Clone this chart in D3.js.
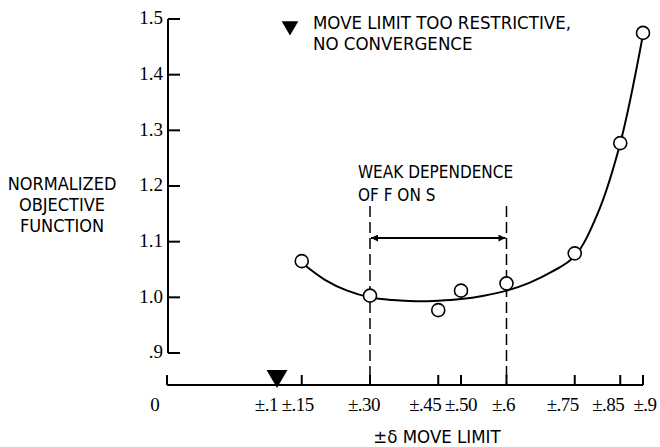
<!DOCTYPE html>
<html>
<head>
<meta charset="utf-8">
<script src="https://cdn.jsdelivr.net/npm/d3@7"></script>
<style>
	body { margin: 0; background: #fff; }
	.cond { font-family: "DejaVu Sans Condensed", "DejaVu Sans", sans-serif; font-stretch: condensed; }
	.num { font-family: "Liberation Serif", serif; }
</style>
</head>
<body>
<div id="chart"></div>
<script>
// measured points
var moveLimits = [0.15, 0.30, 0.45, 0.50, 0.60, 0.75, 0.85, 0.90];
var objValues  = [1.065, 1.003, 0.977, 1.012, 1.025, 1.079, 1.277, 1.475];

// faired curve through the points
var curveX = [0.15, 0.20, 0.25, 0.30, 0.35, 0.40, 0.45, 0.50, 0.55, 0.60, 0.65, 0.70, 0.75, 0.80, 0.85, 0.90];
var curveY = [1.062, 1.032, 1.012, 1.000, 0.995, 0.993, 0.994, 0.997, 1.003, 1.012, 1.026, 1.046, 1.074, 1.150, 1.277, 1.472];

var xTicks = [0.15, 0.30, 0.45, 0.50, 0.60, 0.75, 0.85, 0.90];
var xTickLabels = ["\u00b1.15", "\u00b1.30", "\u00b1.45", "\u00b1.50", "\u00b1.6", "\u00b1.75", "\u00b1.85", "\u00b1.9"];
var yTicks = [0.9, 1.0, 1.1, 1.2, 1.3, 1.4, 1.5];
var yTickLabels = [".9", "1.0", "1.1", "1.2", "1.3", "1.4", "1.5"];
var noConvergence = [0.1];
var weakRange = [0.30, 0.60];

// label nudges, px, so crowded tick labels sit as in the original
var xLabelShift = [-4, -6, -13, 0, -3, -12, -12, 2];

var W = 660, H = 447;

var svg = d3.select("#chart").append("svg")
	.attr("width", W)
	.attr("height", H);

// x axis is broken: 0 at origin, linear from .1 on
var x = d3.scaleLinear().domain([0, 0.1, 0.9]).range([167, 279, 643]);
var y = d3.scaleLinear().domain([0.9, 1.5]).range([353, 19]);
var xAxisY = 385;

// y axis
svg.append("line")
	.attr("x1", 168).attr("x2", 168)
	.attr("y1", y(1.5)).attr("y2", y(0.9))
	.attr("stroke", "#000").attr("stroke-width", 2);

svg.selectAll(".ytick").data(yTicks).enter().append("line")
	.attr("x1", 168).attr("x2", 180)
	.attr("y1", function(d){ return y(d); })
	.attr("y2", function(d){ return y(d); })
	.attr("stroke", "#000").attr("stroke-width", 2);

svg.selectAll(".ylab").data(yTicks).enter().append("text")
	.attr("class", "num")
	.attr("x", 163)
	.attr("y", function(d){ return y(d) + 1; })
	.attr("text-anchor", "end")
	.attr("dominant-baseline", "middle")
	.attr("font-size", 19)
	.text(function(d, i){ return yTickLabels[i]; });

// x axis
svg.append("line")
	.attr("x1", x(0)).attr("x2", x(0.9))
	.attr("y1", xAxisY).attr("y2", xAxisY)
	.attr("stroke", "#000").attr("stroke-width", 2);

svg.selectAll(".xtick").data([0].concat(xTicks)).enter().append("line")
	.attr("x1", function(d){ return x(d); })
	.attr("x2", function(d){ return x(d); })
	.attr("y1", xAxisY).attr("y2", xAxisY - 10)
	.attr("stroke", "#000").attr("stroke-width", 2);

svg.selectAll(".xlab").data(xTicks).enter().append("text")
	.attr("class", "num")
	.attr("x", function(d, i){ return x(d) + xLabelShift[i]; })
	.attr("y", 411)
	.attr("text-anchor", "middle")
	.attr("font-size", 19)
	.attr("letter-spacing", -0.5)
	.text(function(d, i){ return xTickLabels[i]; });

svg.append("text")
	.attr("class", "num")
	.attr("x", x(0) - 12).attr("y", 411)
	.attr("text-anchor", "middle")
	.attr("font-size", 19)
	.text("0");

svg.selectAll(".xlab1").data(noConvergence).enter().append("text")
	.attr("class", "num")
	.attr("x", function(d){ return x(d) - 1; })
	.attr("y", 411)
	.attr("text-anchor", "end")
	.attr("font-size", 19)
	.attr("letter-spacing", -0.5)
	.text("\u00b1.1");

// no convergence marker
var tri = d3.symbol().type(d3.symbolTriangle);
svg.selectAll(".nc").data(noConvergence).enter().append("path")
	.attr("d", tri.size(190)())
	.attr("transform", function(d){ return "translate(" + (x(d) - 2) + "," + (xAxisY - 9) + ") rotate(180)"; })
	.attr("fill", "#000");

// weak dependence region
svg.selectAll(".dash").data(weakRange).enter().append("line")
	.attr("x1", function(d){ return x(d); })
	.attr("x2", function(d){ return x(d); })
	.attr("y1", 206).attr("y2", xAxisY)
	.attr("stroke", "#000").attr("stroke-width", 1.5)
	.attr("stroke-dasharray", "11,5");

var defs = svg.append("defs");
defs.append("marker")
	.attr("id", "ah")
	.attr("viewBox", "0 0 10 10")
	.attr("refX", 10).attr("refY", 5)
	.attr("markerWidth", 14).attr("markerHeight", 7)
	.attr("markerUnits", "userSpaceOnUse")
	.attr("orient", "auto-start-reverse")
	.append("path").attr("d", "M0,0 L10,5 L0,10 Z").attr("fill", "#000");

svg.append("line")
	.attr("x1", x(weakRange[0]) + 1).attr("x2", x(weakRange[1]) - 1)
	.attr("y1", 238).attr("y2", 238)
	.attr("stroke", "#000").attr("stroke-width", 2)
	.attr("marker-start", "url(#ah)")
	.attr("marker-end", "url(#ah)");

svg.append("text").attr("class", "cond")
	.attr("x", 358).attr("y", 178).attr("font-size", 17)
	.text("WEAK DEPENDENCE");
svg.append("text").attr("class", "cond")
	.attr("x", 358).attr("y", 201).attr("font-size", 17)
	.text("OF F ON S");

// fitted curve
var line = d3.line()
	.x(function(d){ return x(d[0]); })
	.y(function(d){ return y(d[1]); })
	.curve(d3.curveCatmullRom);

svg.append("path")
	.datum(d3.zip(curveX, curveY))
	.attr("d", line)
	.attr("fill", "none")
	.attr("stroke", "#000")
	.attr("stroke-width", 2);

// data points
svg.selectAll(".pt").data(d3.zip(moveLimits, objValues)).enter().append("circle")
	.attr("cx", function(d){ return x(d[0]); })
	.attr("cy", function(d){ return y(d[1]); })
	.attr("r", 6.5)
	.attr("fill", "#fff")
	.attr("stroke", "#000")
	.attr("stroke-width", 1.6);

// legend
svg.append("path")
	.attr("d", tri.size(120)())
	.attr("transform", "translate(290,26) rotate(180)")
	.attr("fill", "#000");
svg.append("text").attr("class", "cond")
	.attr("x", 313).attr("y", 29).attr("font-size", 18.5)
	.text("MOVE LIMIT TOO RESTRICTIVE,");
svg.append("text").attr("class", "cond")
	.attr("x", 313).attr("y", 50).attr("font-size", 18.5)
	.text("NO CONVERGENCE");

// axis titles
var yTitle = ["NORMALIZED", "OBJECTIVE", "FUNCTION"];
svg.selectAll(".yt").data(yTitle).enter().append("text")
	.attr("class", "cond")
	.attr("x", 62)
	.attr("y", function(d, i){ return 190 + i * 21; })
	.attr("text-anchor", "middle")
	.attr("font-size", 18)
	.text(function(d){ return d; });

svg.append("text").attr("class", "cond")
	.attr("x", 437).attr("y", 443)
	.attr("text-anchor", "middle")
	.attr("font-size", 18.5)
	.text("\u00b1\u03b4 MOVE LIMIT");
</script>
</body>
</html>
